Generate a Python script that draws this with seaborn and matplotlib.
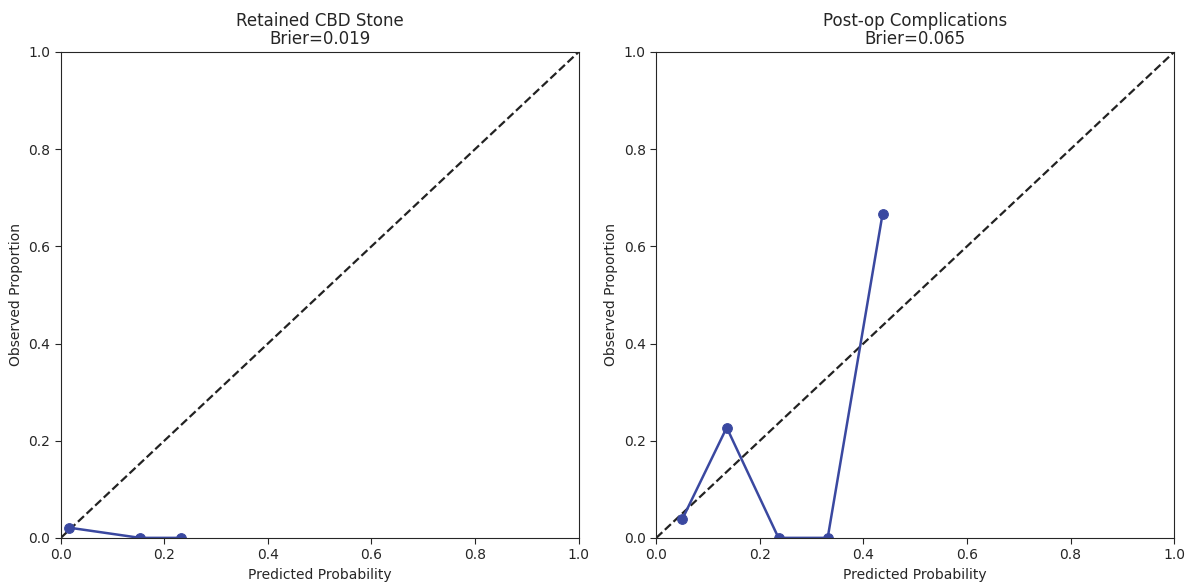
import matplotlib
matplotlib.use("Agg")
import matplotlib.pyplot as plt
import seaborn as sns
import pandas as pd

titles = ["Retained CBD Stone\nBrier=0.019", "Post-op Complications\nBrier=0.065"]
pred_cbd = [0.016, 0.153, 0.232]
obs_cbd = [0.021, 0.0, 0.0]
pred_comp = [0.050, 0.136, 0.236, 0.331, 0.437]
obs_comp = [0.038, 0.227, 0.0, 0.0, 0.667]
ticks = [0.0, 0.2, 0.4, 0.6, 0.8, 1.0]

sns.set_theme(style="ticks")
plt.rcParams['font.family'] = ['DejaVu Sans']

fig, axes = plt.subplots(1, 2, figsize=(11.92, 5.84), dpi=100)
color = "#3a48a0"
for ax, title, px, oy in zip(axes, titles, [pred_cbd, pred_comp], [obs_cbd, obs_comp]):
    df = pd.DataFrame({"pred": px, "obs": oy})
    ax.plot([0, 1], [0, 1], linestyle="--", color="#222222", linewidth=1.6)
    sns.lineplot(data=df, x="pred", y="obs", ax=ax, color=color, marker="o",
                 markersize=7, linewidth=1.8, markeredgecolor=color, sort=False)
    ax.set_xlim(0, 1)
    ax.set_ylim(0, 1)
    ax.set_xticks(ticks)
    ax.set_yticks(ticks)
    ax.set_xlabel("Predicted Probability", fontsize=10)
    ax.set_ylabel("Observed Proportion", fontsize=10)
    ax.set_title(title, fontsize=12, linespacing=1.0)
    ax.tick_params(labelsize=10, width=0.8, length=4)
    for s in ax.spines.values():
        s.set_linewidth(0.8)

fig.subplots_adjust(left=0.051, right=0.985, bottom=0.079, top=0.911, wspace=0.15)
fig.savefig("out.png", dpi=100)
